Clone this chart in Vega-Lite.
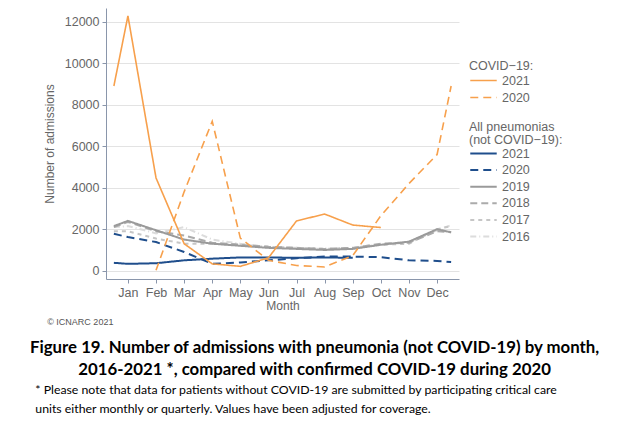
{
  "$schema": "https://vega.github.io/schema/vega-lite/v6.json",
  "background": "white",
  "padding": {"left": 29, "top": 8, "right": 5, "bottom": 5},
  "config": {"view": {"stroke": null}, "font": "Liberation Sans", "concat": {"spacing": 0}, "axisX": {"labelOverlap": false, "labelBound": false, "labelFlush": false}},
  "datasets": {
    "covid": [
      {"m": 0.5, "v": 8900, "s": "2021"}, {"m": 1, "v": 12280, "s": "2021"}, {"m": 2, "v": 4470, "s": "2021"},
      {"m": 3, "v": 1300, "s": "2021"}, {"m": 4, "v": 330, "s": "2021"}, {"m": 5, "v": 210, "s": "2021"},
      {"m": 6, "v": 620, "s": "2021"}, {"m": 7, "v": 2400, "s": "2021"}, {"m": 8, "v": 2730, "s": "2021"},
      {"m": 9, "v": 2200, "s": "2021"}, {"m": 10, "v": 2080, "s": "2021"},
      {"m": 2, "v": 20, "s": "2020"}, {"m": 3, "v": 3800, "s": "2020"}, {"m": 4, "v": 7200, "s": "2020"},
      {"m": 5, "v": 1570, "s": "2020"}, {"m": 6, "v": 500, "s": "2020"}, {"m": 7, "v": 250, "s": "2020"},
      {"m": 8, "v": 180, "s": "2020"}, {"m": 9, "v": 730, "s": "2020"}, {"m": 10, "v": 2650, "s": "2020"},
      {"m": 11, "v": 4200, "s": "2020"}, {"m": 12, "v": 5600, "s": "2020"}, {"m": 12.5, "v": 8900, "s": "2020"}
    ],
    "pneu": [
      {"m": 0.5, "v": 2100, "s": "2016"}, {"m": 1, "v": 2150, "s": "2016"}, {"m": 2, "v": 1800, "s": "2016"},
      {"m": 3, "v": 2100, "s": "2016"}, {"m": 4, "v": 1500, "s": "2016"}, {"m": 5, "v": 1300, "s": "2016"},
      {"m": 6, "v": 1150, "s": "2016"}, {"m": 7, "v": 1100, "s": "2016"}, {"m": 8, "v": 1050, "s": "2016"},
      {"m": 9, "v": 1100, "s": "2016"}, {"m": 10, "v": 1250, "s": "2016"}, {"m": 11, "v": 1400, "s": "2016"},
      {"m": 12, "v": 1950, "s": "2016"}, {"m": 12.5, "v": 2200, "s": "2016"},
      {"m": 0.5, "v": 1900, "s": "2017"}, {"m": 1, "v": 1900, "s": "2017"}, {"m": 2, "v": 1550, "s": "2017"},
      {"m": 3, "v": 1300, "s": "2017"}, {"m": 4, "v": 1300, "s": "2017"}, {"m": 5, "v": 1250, "s": "2017"},
      {"m": 6, "v": 1150, "s": "2017"}, {"m": 7, "v": 1100, "s": "2017"}, {"m": 8, "v": 1050, "s": "2017"},
      {"m": 9, "v": 1100, "s": "2017"}, {"m": 10, "v": 1250, "s": "2017"}, {"m": 11, "v": 1300, "s": "2017"},
      {"m": 12, "v": 2000, "s": "2017"}, {"m": 12.5, "v": 2150, "s": "2017"},
      {"m": 0.5, "v": 2100, "s": "2018"}, {"m": 1, "v": 2350, "s": "2018"}, {"m": 2, "v": 1900, "s": "2018"},
      {"m": 3, "v": 1700, "s": "2018"}, {"m": 4, "v": 1350, "s": "2018"}, {"m": 5, "v": 1250, "s": "2018"},
      {"m": 6, "v": 1150, "s": "2018"}, {"m": 7, "v": 1100, "s": "2018"}, {"m": 8, "v": 1050, "s": "2018"},
      {"m": 9, "v": 1100, "s": "2018"}, {"m": 10, "v": 1300, "s": "2018"}, {"m": 11, "v": 1350, "s": "2018"},
      {"m": 12, "v": 1900, "s": "2018"}, {"m": 12.5, "v": 1850, "s": "2018"},
      {"m": 0.5, "v": 2150, "s": "2019"}, {"m": 1, "v": 2400, "s": "2019"}, {"m": 2, "v": 1950, "s": "2019"},
      {"m": 3, "v": 1500, "s": "2019"}, {"m": 4, "v": 1300, "s": "2019"}, {"m": 5, "v": 1200, "s": "2019"},
      {"m": 6, "v": 1100, "s": "2019"}, {"m": 7, "v": 1050, "s": "2019"}, {"m": 8, "v": 1000, "s": "2019"},
      {"m": 9, "v": 1050, "s": "2019"}, {"m": 10, "v": 1250, "s": "2019"}, {"m": 11, "v": 1400, "s": "2019"},
      {"m": 12, "v": 2000, "s": "2019"}, {"m": 12.5, "v": 1850, "s": "2019"},
      {"m": 0.5, "v": 1780, "s": "2020"}, {"m": 1, "v": 1620, "s": "2020"}, {"m": 2, "v": 1380, "s": "2020"},
      {"m": 3, "v": 900, "s": "2020"}, {"m": 4, "v": 330, "s": "2020"}, {"m": 5, "v": 400, "s": "2020"},
      {"m": 6, "v": 500, "s": "2020"}, {"m": 7, "v": 600, "s": "2020"}, {"m": 8, "v": 680, "s": "2020"},
      {"m": 9, "v": 680, "s": "2020"}, {"m": 10, "v": 650, "s": "2020"}, {"m": 11, "v": 500, "s": "2020"},
      {"m": 12, "v": 470, "s": "2020"}, {"m": 12.5, "v": 420, "s": "2020"},
      {"m": 0.5, "v": 380, "s": "2021"}, {"m": 1, "v": 330, "s": "2021"}, {"m": 2, "v": 360, "s": "2021"},
      {"m": 3, "v": 500, "s": "2021"}, {"m": 4, "v": 580, "s": "2021"}, {"m": 5, "v": 640, "s": "2021"},
      {"m": 6, "v": 640, "s": "2021"}, {"m": 7, "v": 620, "s": "2021"}, {"m": 8, "v": 640, "s": "2021"},
      {"m": 9, "v": 620, "s": "2021"}
    ]
  },
  "title": {
    "text": ["* Please note that data for patients without COVID-19 are submitted by participating critical care", "units either monthly or quarterly. Values have been adjusted for coverage."],
    "orient": "bottom", "anchor": "start", "frame": "bounds", "align": "left", "dx": 6,
    "font": "Lato", "fontSize": 12.3, "fontWeight": "normal", "color": "black", "lineHeight": 19, "offset": 6
  },
  "vconcat": [
    {
      "title": {
        "text": ["Figure 19. Number of admissions with pneumonia (not COVID-19) by month,", "2016-2021 *, compared with confirmed COVID-19 during 2020"],
        "orient": "bottom", "anchor": "middle", "frame": "bounds", "dx": 11.5,
        "font": "Lato", "fontSize": 16.8, "fontWeight": "bold", "color": "black", "lineHeight": 22, "offset": 13
      },
      "vconcat": [
        {
          "width": 353,
          "height": 271,
          "title": {"text": "© ICNARC 2021", "orient": "bottom", "anchor": "start", "frame": "bounds", "dx": 4, "fontSize": 9, "fontWeight": "normal", "color": "#555555", "offset": 6},
          "layer": [
            {
              "data": {"name": "pneu"},
              "mark": {"type": "line"},
              "encoding": {
                "x": {"field": "m", "type": "quantitative",
                  "scale": {"domain": [0.22, 12.78], "nice": false, "zero": false},
                  "axis": {"values": [1,2,3,4,5,6,7,8,9,10,11,12], "tickCount": 24, "labelOverlap": false,
                    "labelExpr": "['','Jan','Feb','Mar','Apr','May','Jun','Jul','Aug','Sep','Oct','Nov','Dec'][datum.value]",
                    "grid": false, "domainColor": "#8a96ab", "tickColor": "#8a96ab", "tickSize": 4,
                    "labelColor": "#666666", "labelFontSize": 12.5, "labelPadding": 3,
                    "title": "Month", "titleFontWeight": "normal", "titleColor": "#666666", "titleFontSize": 12, "titlePadding": 2}},
                "y": {"field": "v", "type": "quantitative",
                  "scale": {"domain": [-400, 12660], "nice": false, "zero": false},
                  "axis": {"values": [0,2000,4000,6000,8000,10000,12000], "tickCount": 14, "format": "d",
                    "grid": true, "gridColor": "#e3e3e3", "domainColor": "#8a96ab", "tickColor": "#8a96ab", "tickSize": 4,
                    "labelColor": "#666666", "labelFontSize": 12.5, "labelPadding": 3,
                    "title": "Number of admissions", "titleFontWeight": "normal", "titleColor": "#666666", "titleFontSize": 12, "titlePadding": 8}},
                "strokeWidth": {"field": "s", "type": "nominal",
                  "scale": {"domain": ["2021","2020","2019","2018","2017","2016"], "range": [2,2,1.4,1.4,1.4,1.4]}, "legend": null},
                "color": {"field": "s", "type": "nominal",
                  "scale": {"domain": ["2021","2020","2019","2018","2017","2016"], "range": ["#1f4e8c","#1f4e8c","#9a9a9a","#ababab","#c6c6c6","#dcdcdc"]},
                  "legend": {"title": ["All pneumonias", "(not COVID−19):"], "orient": "none", "legendX": 363, "legendY": 113,
                    "symbolType": "stroke", "symbolSize": 700, "symbolStrokeWidth": 1.6, "clipHeight": 14, "rowPadding": 2.6,
                    "labelFontSize": 12.5, "labelColor": "#666666", "titleFontSize": 12.5, "titleFontWeight": "normal", "titleColor": "#666666", "titleLineHeight": 13, "titlePadding": 0}},
                "strokeDash": {"field": "s", "type": "nominal",
                  "scale": {"domain": ["2021","2020","2019","2018","2017","2016"], "range": [[1,0],[8,5],[1,0],[7,4],[4,4],[6,3,1,3]]},
                  "legend": {"title": ["All pneumonias", "(not COVID−19):"], "orient": "none", "legendX": 363, "legendY": 113,
                    "symbolType": "stroke", "symbolSize": 700, "symbolStrokeWidth": 1.6, "clipHeight": 14, "rowPadding": 2.6,
                    "labelFontSize": 12.5, "labelColor": "#666666", "titleFontSize": 12.5, "titleFontWeight": "normal", "titleColor": "#666666", "titleLineHeight": 13, "titlePadding": 0}}
              }
            },
            {
              "data": {"name": "covid"},
              "mark": {"type": "line", "strokeWidth": 1.6},
              "encoding": {
                "x": {"field": "m", "type": "quantitative"},
                "y": {"field": "v", "type": "quantitative"},
                "color": {"field": "s", "type": "nominal",
                  "scale": {"domain": ["2021","2020"], "range": ["#f7a04c","#f7a04c"]},
                  "legend": {"title": "COVID−19:", "orient": "none", "legendX": 363, "legendY": 52,
                    "symbolType": "stroke", "symbolSize": 700, "symbolStrokeWidth": 1.6, "clipHeight": 14, "rowPadding": 3,
                    "labelFontSize": 12.5, "labelColor": "#666666", "titleFontSize": 12.5, "titleFontWeight": "normal", "titleColor": "#666666", "titlePadding": 1}},
                "strokeDash": {"field": "s", "type": "nominal",
                  "scale": {"domain": ["2021","2020"], "range": [[1,0],[8,5]]},
                  "legend": {"title": "COVID−19:", "orient": "none", "legendX": 363, "legendY": 52,
                    "symbolType": "stroke", "symbolSize": 700, "symbolStrokeWidth": 1.6, "clipHeight": 14, "rowPadding": 3,
                    "labelFontSize": 12.5, "labelColor": "#666666", "titleFontSize": 12.5, "titleFontWeight": "normal", "titleColor": "#666666", "titlePadding": 1}}
              }
            }
          ],
          "resolve": {"scale": {"color": "independent", "strokeDash": "independent", "strokeWidth": "independent"}}
        }
      ]
    }
  ]
}
